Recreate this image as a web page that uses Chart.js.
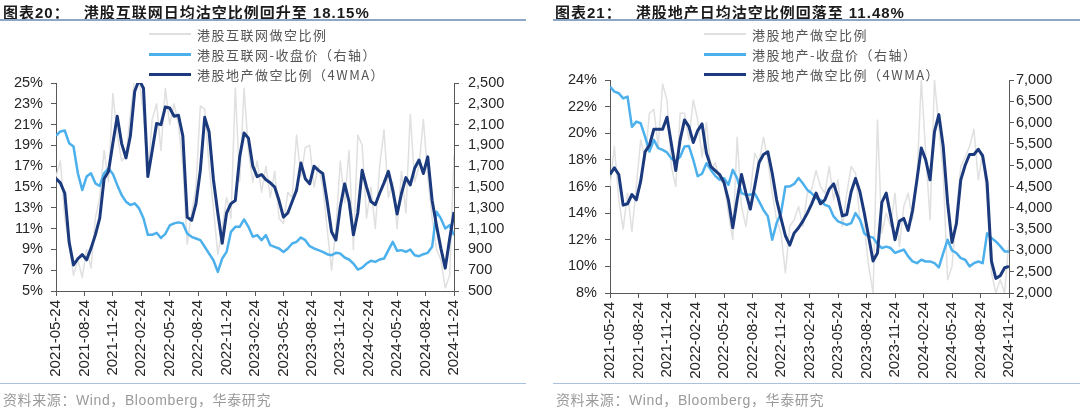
<!DOCTYPE html>
<html lang="zh-CN">
<head>
<meta charset="utf-8">
<script src="https://cdn.jsdelivr.net/npm/chart.js@4/dist/chart.umd.min.js"></script>
<style>
  body { margin: 0; width: 1080px; height: 408px; background: #fff; overflow: hidden;
         font-family: "Liberation Sans", "Noto Sans CJK SC", sans-serif; }
  .panel { position: absolute; top: 0; width: 540px; height: 408px; }
  .panel canvas { position: absolute; left: 0; top: 0; }
  .title { position: absolute; top: 1px; font-weight: bold; font-size: 15px; color: #1a1a1a;
           white-space: nowrap; letter-spacing: 1px; }
  .title .gap { display: inline-block; width: 14px; }
  .rule { position: absolute; top: 19px; border-top: 2px solid #8ea6c6; }
  .legend { position: absolute; top: 24px; font-family: "Noto Sans CJK SC"; font-size: 13px;
            color: #555; letter-spacing: 1.5px; white-space: nowrap; }
  .legend div { height: 20px; display: flex; align-items: center; }
  .legend i { display: inline-block; width: 42px; margin-right: 6px; }
  .foot-rule { position: absolute; top: 383px; border-top: 1px solid #a9c0df; }
  .source { position: absolute; top: 389px; font-size: 14px; color: #9a9a9a; white-space: nowrap;
            letter-spacing: 0.6px; }
</style>
</head>
<body>

<div class="panel" style="left:0">
  <canvas id="chart20" width="540" height="408"></canvas>
  <div class="title" style="left:3px">图表20：<span class="gap"></span>港股互联网日均沽空比例回升至 18.15%</div>
  <div class="rule" style="left:0; width:526px"></div>
  <div class="legend" style="left:149px">
    <div><i style="border-top:2px solid #e0e0e0"></i>港股互联网做空比例</div>
    <div><i style="border-top:3px solid #4cb0ec"></i>港股互联网-收盘价（右轴）</div>
    <div><i style="border-top:3px solid #1b3a7d"></i>港股地产做空比例（4WMA）</div>
  </div>
  <div class="foot-rule" style="left:0; width:526px"></div>
  <div class="source" style="left:3px">资料来源：Wind，Bloomberg，华泰研究</div>
</div>

<div class="panel" style="left:540px">
  <canvas id="chart21" width="540" height="408"></canvas>
  <div class="title" style="left:15px">图表21：<span class="gap"></span>港股地产日均沽空比例回落至 11.48%</div>
  <div class="rule" style="left:13px; width:527px"></div>
  <div class="legend" style="left:164px">
    <div><i style="border-top:2px solid #e0e0e0"></i>港股地产做空比例</div>
    <div><i style="border-top:3px solid #4cb0ec"></i>港股地产-收盘价（右轴）</div>
    <div><i style="border-top:3px solid #1b3a7d"></i>港股地产做空比例（4WMA）</div>
  </div>
  <div class="foot-rule" style="left:13px; width:527px"></div>
  <div class="source" style="left:16px">资料来源：Wind，Bloomberg，华泰研究</div>
</div>

<script>
// one sample every 2 weeks, 2021-05-24 .. 2024-11-24 (week 0 .. 182)
const STEP_WEEKS = 2;
const tickDates = ['2021-05-24', '2021-08-24', '2021-11-24', '2022-02-24', '2022-05-24', '2022-08-24', '2022-11-24',
    '2023-02-24', '2023-05-24', '2023-08-24', '2023-11-24', '2024-02-24', '2024-05-24', '2024-08-24', '2024-11-24'];

// 图表20 港股互联网
const netDaily = [16, 17.5, 12, 9.5, 6.5, 8, 6.3, 9, 7.2, 12,
    14, 18.5, 15.5, 24, 20, 17.5, 18, 22, 25.5, 25.5,
    22, 16, 21.5, 23, 18.5, 24.5, 21, 23, 21, 17,
    9.5, 12.5, 15, 22.8, 22.5, 17, 13, 8.5, 11, 14,
    12, 24.5, 15.5, 24.5, 18.5, 15.5, 17.5, 14.5, 17, 14,
    16.5, 12, 11.5, 14.5, 14, 20, 16, 18.8, 19, 15,
    17, 15, 11, 7, 11, 17.5, 13.5, 18.5, 9, 20,
    19, 12, 15, 11, 17, 20.5, 14, 15.5, 11, 16.5,
    12.5, 22, 15.5, 17, 21.5, 16, 12, 9, 8, 5.3,
    6.5, 18.1];
const netPrice = [1992, 2034, 2043, 1921, 1889, 1632, 1471, 1600, 1632, 1535,
    1510, 1632, 1680, 1626, 1519, 1423, 1359, 1326, 1343, 1294,
    1200, 1040, 1040, 1060, 1010, 1050, 1130, 1150, 1160, 1150,
    1053, 1021, 1005, 989, 925, 860, 796, 684, 812, 876,
    1069, 1117, 1117, 1188, 1117, 1021, 1037, 989, 1037, 941,
    925, 909, 876, 909, 957, 973, 1015, 989, 931, 909,
    893, 876, 854, 844, 867, 860, 822, 803, 764, 706,
    725, 764, 790, 780, 803, 812, 893, 973, 886, 893,
    876, 899, 844, 835, 854, 867, 925, 1262, 1198, 1101,
    1133, 1037];
const netWma = [15.8, 15.4, 14.4, 9.7, 7.5, 8.1, 8.5, 8.0, 9.1, 10.4,
    12.0, 15.8, 16.5, 19.2, 21.8, 19.2, 17.8, 19.9, 24.2, 25.3,
    24.5, 16.0, 18.5, 21.1, 21.0, 22.7, 22.6, 21.8, 21.9, 19.9,
    12.1, 11.8, 13.4, 16.6, 21.7, 20.3, 15.7, 12.5, 9.6, 12.5,
    13.4, 13.7, 17.9, 20.2, 19.7, 17.0, 16.0, 16.2, 15.7, 15.4,
    15.0, 13.7, 12.1, 12.5, 13.6, 14.7, 17.3, 15.8, 15.3, 17.0,
    16.6, 16.3, 13.6, 10.7, 9.9, 13.1, 15.3, 13.6, 10.4, 12.5,
    16.6, 15.0, 13.6, 13.3, 14.4, 15.4, 16.5, 14.7, 12.4, 14.4,
    15.9, 15.2, 16.8, 17.6, 16.3, 17.9, 13.7, 11.3, 9.1, 7.2,
    10.0, 12.6];

// 图表21 港股地产
const propDaily = [16, 19, 15, 12.8, 15.5, 12.6, 16, 19.5, 18, 21.5,
    21.8, 19, 23.7, 22.5, 17.5, 16, 21.5, 21.5, 19.5, 22.5,
    21, 18.2, 20.8, 17.2, 17.8, 16.5, 16.2, 14, 12, 19.7,
    14.5, 13, 15.5, 18.5, 17.8, 19.7, 18, 15.5, 13.5, 12.5,
    9.5, 13, 13.5, 14.5, 13, 15.5, 15.8, 17.2, 16, 15.5,
    17.5, 15, 16.5, 13, 15.5, 17.5, 17, 13.5, 13, 10,
    8, 21, 12.5, 14, 13, 15.5, 11.5, 14.5, 15.5, 13.5,
    16.5, 24, 18.5, 13.5, 24, 20.5, 17, 9, 10, 14,
    17.5, 18.2, 19, 20.3, 16.5, 18.5, 15, 9.5, 8, 9,
    8, 12];
const propPrice = [6844, 6727, 6688, 6570, 6610, 5900, 6023, 5984, 5672, 5320,
    5594, 5400, 5360, 5300, 5160, 5086, 5200, 5437, 5450, 5125,
    4740, 4800, 5047, 4890, 4750, 4660, 4695, 4540, 4891, 4690,
    4344, 4305, 4305, 4340, 4150, 3950, 3800, 3250, 3641, 3875,
    4500, 4500, 4560, 4700, 4570, 4420, 4340, 4230, 4188, 4070,
    4031, 3797, 3680, 3640, 3600, 3640, 3875, 3720, 3400, 3330,
    3300, 3150, 3055, 3090, 3055, 2940, 2980, 3020, 2860, 2742,
    2700, 2780, 2740, 2742, 2700, 2600, 2938, 3250, 3000, 2938,
    2820, 2780, 2625, 2700, 2740, 2700, 3400, 3290, 3211, 3100,
    2977, 2977];
const propWma = [16.9, 17.4, 16.9, 14.6, 14.7, 15.4, 15.0, 16.4, 18.6, 19.1,
    20.3, 20.3, 20.3, 21.2, 19.2, 17.2, 19.5, 21.0, 20.5, 19.3,
    20.2, 20.7, 18.5, 17.5, 17.2, 16.9, 16.3, 15.0, 12.9, 15.0,
    16.9, 15.5, 14.3, 16.0, 17.8, 18.4, 18.6, 17.0, 15.0, 13.6,
    12.3, 11.6, 12.5, 12.9, 13.4, 14.0, 14.7, 15.5, 14.7, 15.0,
    15.8, 16.2, 15.2, 13.8, 13.9, 15.6, 16.6, 15.6, 14.0, 12.2,
    10.4, 11.0, 14.8, 15.5, 13.8, 12.0, 13.4, 13.6, 12.7, 14.2,
    16.5, 18.9, 18.0, 16.5, 20.1, 21.4, 19.0, 14.8, 11.8, 13.2,
    16.5, 17.6, 18.4, 18.4, 18.8, 18.3, 16.3, 10.4, 9.1, 9.3,
    9.9, 10.0];

const NAVY = '#1b3a7d';
const SKY = '#4cb0ec';
const GREY = '#e0e0e0';
const AXIS = '#595959';
const TICK_FONT = { family: 'Liberation Sans', size: 14.5 };

function toPoints(vals) {
    return vals.map((v, i) => ({ x: i * STEP_WEEKS, y: v }));
}

function axisGrid() {
    return { drawOnChartArea: false, drawTicks: true, tickLength: 5, color: AXIS };
}

function makeChart(id, cfg) {
    return new Chart(document.getElementById(id), {
        type: 'line',
        data: {
            datasets: [
                { data: toPoints(cfg.wma), yAxisID: 'y', borderColor: NAVY, borderWidth: 3, order: 0 },
                { data: toPoints(cfg.price), yAxisID: 'y1', borderColor: SKY, borderWidth: 2.5, order: 1 },
                { data: toPoints(cfg.daily), yAxisID: 'y', borderColor: GREY, borderWidth: 1.5, order: 2 }
            ]
        },
        options: {
            responsive: false,
            animation: false,
            layout: { padding: { top: cfg.top, left: 0, right: 0, bottom: 0 } },
            elements: { point: { radius: 0 }, line: { tension: 0, borderJoinStyle: 'round' } },
            plugins: { legend: { display: false }, tooltip: { enabled: false } },
            scales: {
                x: {
                    type: 'linear', min: 0, max: 182,
                    afterFit: s => { s.height = 408 - cfg.bottom; },
                    grid: axisGrid(),
                    border: { display: true, color: AXIS },
                    ticks: {
                        stepSize: 13, autoSkip: false, minRotation: 90, maxRotation: 90, padding: 4,
                        font: { family: 'Liberation Sans', size: 15 }, color: '#262626',
                        callback: v => tickDates[Math.round(v / 13)]
                    }
                },
                y: {
                    position: 'left', min: cfg.yMin, max: cfg.yMax,
                    afterFit: s => { s.width = cfg.left; },
                    grid: axisGrid(),
                    border: { display: true, color: AXIS },
                    ticks: { stepSize: cfg.yStep, padding: 8, font: TICK_FONT, color: '#262626',
                             callback: v => v + '%' }
                },
                y1: {
                    position: 'right', min: cfg.pMin, max: cfg.pMax,
                    afterFit: s => { s.width = 540 - cfg.right; },
                    grid: axisGrid(),
                    border: { display: true, color: AXIS },
                    ticks: { stepSize: cfg.pStep, padding: cfg.rPad, font: TICK_FONT, color: '#262626',
                             callback: v => v.toLocaleString('en-US') }
                }
            }
        }
    });
}

makeChart('chart20', {
    daily: netDaily, price: netPrice, wma: netWma,
    top: 83, bottom: 291, left: 56, right: 454, rPad: 9,
    yMin: 5, yMax: 25, yStep: 2, pMin: 500, pMax: 2500, pStep: 200
});

makeChart('chart21', {
    daily: propDaily, price: propPrice, wma: propWma,
    top: 80, bottom: 293, left: 70, right: 469, rPad: 2,
    yMin: 8, yMax: 24, yStep: 2, pMin: 2000, pMax: 7000, pStep: 500
});
</script>
</body>
</html>
